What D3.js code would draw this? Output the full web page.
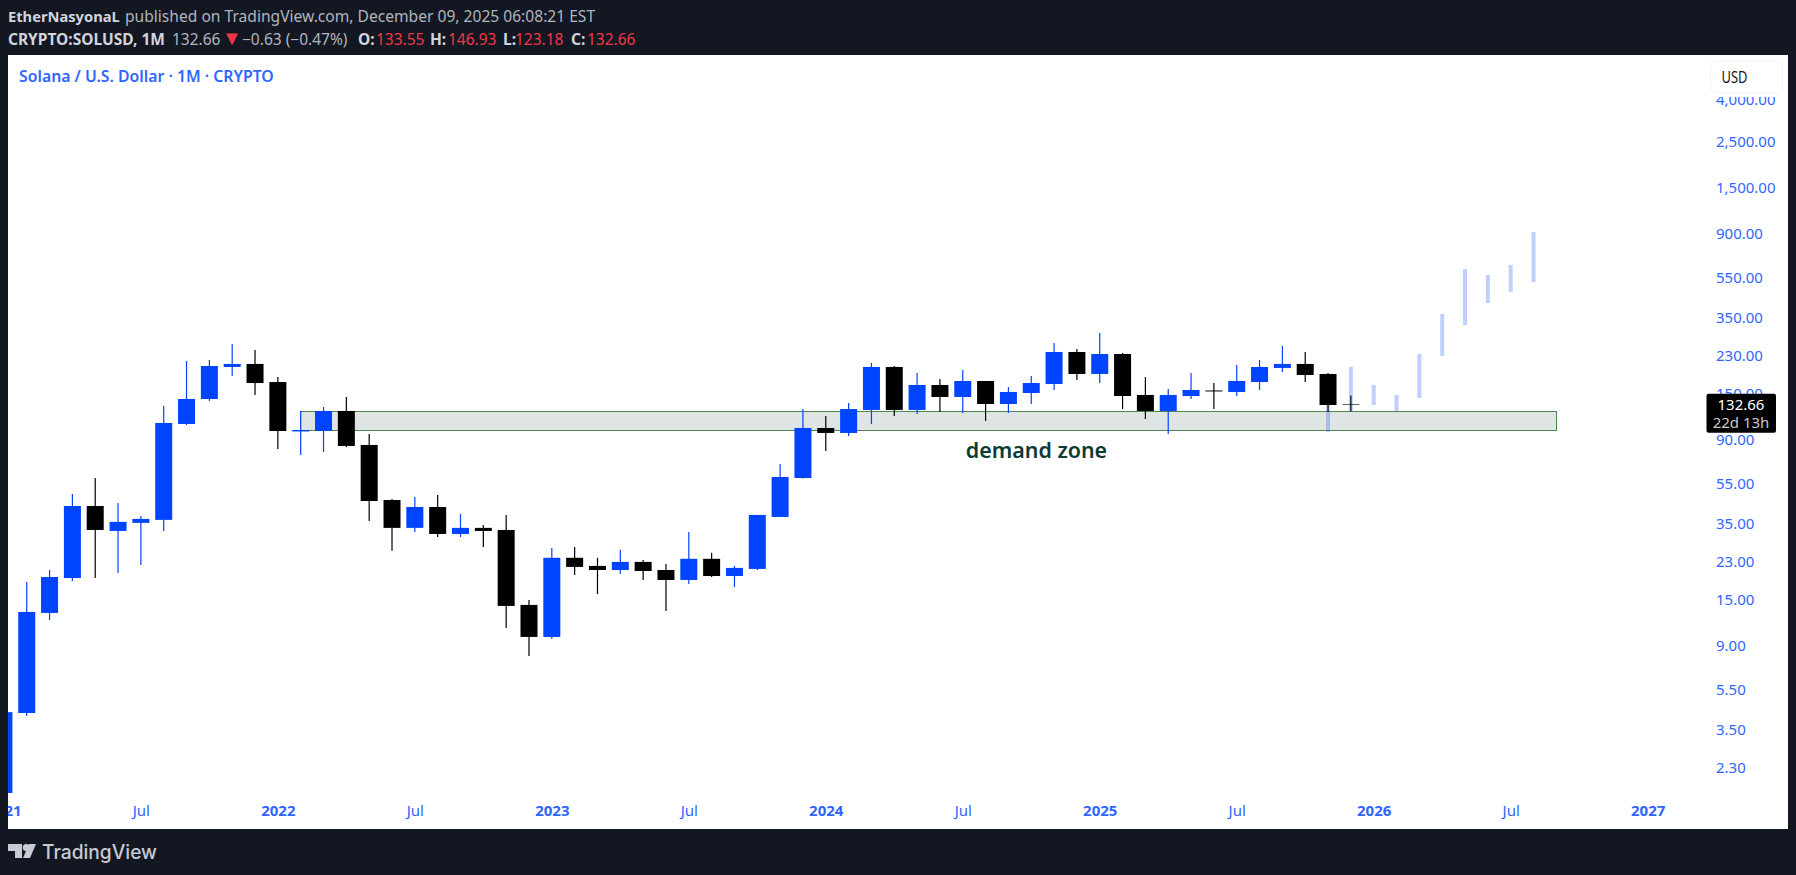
<!DOCTYPE html>
<html>
<head>
<meta charset="utf-8">
<title>SOLUSD 1M</title>
<script src="https://cdn.jsdelivr.net/npm/d3@7"></script>
<style>
  html, body { margin: 0; padding: 0; background: #131722; overflow: hidden; }
  text { font-family: "Noto Sans", sans-serif; }
  .domain { display: none; }
</style>
</head>
<body>
<svg id="chart" width="1796" height="875"></svg>
<script>
// month index 0 = Jan 2021
var opens = [1.73, 4.23, 12.94, 19.11, 42.74, 32.34, 35.39, 36.6, 106.9, 141.3, 202.1, 209.0,
    170.8, 98.3, 98.84, 123.6, 84.54, 45.7, 33.47, 42.26, 31.27, 33.47, 32.7, 14.15,
    9.895, 23.96, 21.88, 20.9, 22.88, 20.9, 18.7, 23.69, 19.55, 21.16, 37.82, 58.44,
    102.2, 96.66, 125, 202.1, 125, 165.2, 144.5, 172.8, 133.6, 151.1, 167.1, 238.9,
    186.9, 233.6, 147.8, 123.6, 146.1, 155.4, 152.8, 170.8, 199.9, 209.0, 186.9, 133.55];
var highs = [4.28, 18.29, 20.9, 48.87, 58.44, 44.19, 38.25, 130.6, 216.1, 218.5, 261.3, 244.3,
    180.7, 123.6, 129.2, 144.5, 95.58, 46.21, 47.26, 48.32, 39.11, 34.61, 38.68, 14.96,
    26.7, 27.0, 23.96, 26.2, 23.4, 22.38, 31.98, 25.34, 21.88, 38.68, 68.38, 126.3,
    116.9, 135.1, 211.3, 204.3, 189.0, 176.7, 195.4, 172.8, 161.6, 182.7, 264.2, 247.1,
    295.4, 236.2, 180.7, 158.0, 189.0, 168.9, 206.6, 218.5, 255.5, 238.9, 189.0, 146.93];
var lows = [1.73, 4.09, 11.96, 18.49, 19.11, 20.21, 22.13, 32.34, 105.7, 138.1, 182.7, 147.8,
    80.85, 75.56, 78.13, 82.67, 36.19, 25.91, 31.98, 30.24, 30.24, 27.0, 10.94, 8.005,
    9.677, 19.76, 15.97, 19.99, 18.7, 13.23, 17.88, 19.33, 17.29, 20.9, 37.82, 58.1,
    79.0, 93.47, 106.9, 116.9, 119.5, 122.2, 120.9, 110.6, 120.9, 133.6, 156.3, 174.7,
    168.9, 126.3, 113.1, 95.58, 141.3, 126.3, 146.1, 156.3, 191.1, 170.8, 122.2, 123.18];
var closes = [4.27, 13.08, 19.33, 42.74, 32.7, 35.79, 36.99, 108.1, 141.3, 204.3, 209.0, 168.9,
    98.84, 99.95, 123.6, 83.6, 45.19, 33.47, 42.26, 31.27, 33.47, 32.34, 13.99, 9.895,
    23.96, 21.64, 20.9, 22.88, 20.67, 18.7, 23.69, 19.55, 21.4, 38.68, 59.09, 102.2,
    96.66, 126.3, 202.1, 125, 165.2, 144.5, 172.8, 133.6, 152.8, 168.9, 238.9, 186.9,
    233.6, 146.1, 123.6, 147.8, 156.3, 153.7, 172.8, 202.1, 209.0, 184.8, 132.1, 132.66];

// pale projected bars drawn by the author, from Nov 2025 on
var ghostStart = 58;
var ghostHighs = [186.9, 202.1, 165.2, 147.8, 233.6, 365.3, 603.8, 564.6, 631.4, 913];
var ghostLows = [97.7, 123.6, 132.1, 123.6, 142.9, 228.5, 323.1, 413.0, 466.9, 522.1];

var zoneTop = 122.9, zoneBottom = 99.3;
var zoneFrom = 13, zoneTo = 67.99;

var priceTicks = [4000, 2500, 1500, 900, 550, 350, 230, 150, 90, 55, 35, 23, 15, 9, 5.5, 3.5, 2.3];
var timeTicks = [0, 6, 12, 18, 24, 30, 36, 42, 48, 54, 60, 66, 72];
var timeLabels = ["2021", "Jul", "2022", "Jul", "2023", "Jul", "2024", "Jul", "2025", "Jul", "2026", "Jul", "2027"];

var lastPrice = 132.66;

var blue = "#0044ff", axisBlue = "#2f66ff", dark = "#131722";
var grey = "#b2b5be", light = "#d1d4dc", red = "#f23645";

var svg = d3.select("#chart");

var x = d3.scaleLinear().domain([0, 72]).range([3.9, 3.9 + 72 * 22.83]);
var y = d3.scaleLog().domain([900, 2.3]).range([233.3, 767.5]);

// panel
svg.append("rect").attr("x", 8).attr("y", 55).attr("width", 1780).attr("height", 774).attr("fill", "#fff");
svg.append("clipPath").attr("id", "panel")
    .append("rect").attr("x", 8).attr("y", 55).attr("width", 1780).attr("height", 774);

var plot = svg.append("g").attr("clip-path", "url(#panel)");

// demand zone
plot.append("rect")
    .attr("x", x(zoneFrom))
    .attr("y", y(zoneTop))
    .attr("width", x(zoneTo) - x(zoneFrom))
    .attr("height", y(zoneBottom) - y(zoneTop))
    .attr("fill", "#dfe4e4")
    .attr("stroke", "#4f854f")
    .attr("stroke-width", 1)
    .attr("shape-rendering", "crispEdges");

// projected bars
plot.selectAll(".ghost")
    .data(ghostHighs)
    .enter().append("rect")
    .attr("class", "ghost")
    .attr("x", function(d, i) { return x(ghostStart + i) - 2; })
    .attr("y", function(d) { return y(d); })
    .attr("width", 4)
    .attr("height", function(d, i) { return y(ghostLows[i]) - y(d); })
    .attr("fill", blue)
    .attr("fill-opacity", 0.25);

// candles
var candles = plot.selectAll(".candle")
    .data(opens)
    .enter().append("g")
    .attr("class", "candle")
    .attr("fill", function(d, i) { return closes[i] >= d ? blue : "#000"; })
    .attr("stroke", function(d, i) { return closes[i] >= d ? blue : "#000"; });

candles.append("line")
    .attr("x1", function(d, i) { return x(i); })
    .attr("x2", function(d, i) { return x(i); })
    .attr("y1", function(d, i) { return y(highs[i]); })
    .attr("y2", function(d, i) { return y(lows[i]); })
    .attr("stroke-width", 1.2);

candles.append("rect")
    .attr("x", function(d, i) { return x(i) - 8.5; })
    .attr("y", function(d, i) { return y(Math.max(d, closes[i])); })
    .attr("width", 17)
    .attr("height", function(d, i) { return Math.abs(y(d) - y(closes[i])); })
    .attr("stroke", "none");

plot.append("text")
    .attr("x", 1036.5)
    .attr("y", 458)
    .attr("text-anchor", "middle")
    .attr("font-size", 21.4)
    .attr("font-weight", 600)
    .attr("fill", "#0d3b33")
    .text("demand zone");

// time axis
var timeAxis = d3.axisBottom(x)
    .tickValues(timeTicks)
    .tickSize(0)
    .tickPadding(0)
    .tickFormat(function(d, i) { return timeLabels[i]; });

plot.append("g")
    .attr("transform", "translate(0,816)")
    .call(timeAxis)
    .selectAll("text")
    .attr("font-size", 15)
    .attr("dy", 0)
    .attr("y", 0)
    .attr("fill", axisBlue)
    .attr("font-weight", function(d, i) { return timeLabels[i] === "Jul" ? 400 : 700; });

// price axis
var priceAxis = d3.axisRight(y)
    .tickValues(priceTicks)
    .tickSize(0)
    .tickPadding(0)
    .tickFormat(d3.format(",.2f"));

var priceG = plot.append("g")
    .attr("transform", "translate(1716,0)")
    .call(priceAxis);

priceG.selectAll("text")
    .attr("font-size", 15)
    .attr("fill", axisBlue);

// last price label
var lastY = y(lastPrice);
svg.append("rect").attr("x", 1706.5).attr("y", lastY - 11).attr("width", 69.5).attr("height", 39)
    .attr("rx", 2).attr("fill", "#000");
svg.append("text").attr("x", 1741).attr("y", lastY + 5.5)
    .attr("text-anchor", "middle").attr("font-size", 15).attr("fill", "#fff").text(d3.format(".2f")(lastPrice));
svg.append("text").attr("x", 1741).attr("y", lastY + 23)
    .attr("text-anchor", "middle").attr("font-size", 15).attr("fill", "#c8c8c8").text("22d 13h");

// currency button
svg.append("rect").attr("x", 1705).attr("y", 55).attr("width", 83).attr("height", 42).attr("fill", "#fff");
svg.append("rect").attr("x", 1710.5).attr("y", 61).attr("width", 72).attr("height", 32)
    .attr("rx", 6).attr("fill", "#fff").attr("stroke", "#f0f3fa").attr("stroke-width", 1);
svg.append("text").attr("x", 1721.5).attr("y", 82.5).attr("font-size", 16.5).attr("fill", "#131722")
    .attr("textLength", 26).attr("lengthAdjust", "spacingAndGlyphs").text("USD");

// headings
svg.append("text").attr("x", 8).attr("y", 22).attr("font-size", 14.7).attr("font-weight", 700)
    .attr("fill", light).text("EtherNasyonaL");
svg.append("text").attr("x", 125).attr("y", 22).attr("font-size", 15.6).attr("fill", grey)
    .text("published on TradingView.com, December 09, 2025 06:08:21 EST");

var headerRow = [
    ["CRYPTO:SOLUSD, 1M", 8, 700, light],
    ["132.66", 172, 400, grey],
    ["\u22120.63 (\u22120.47%)", 242, 400, grey],
    ["O:", 358, 700, light],
    ["133.55", 376, 400, red],
    ["H:", 430, 700, light],
    ["146.93", 448, 400, red],
    ["L:", 503, 700, light],
    ["123.18", 515, 400, red],
    ["C:", 571, 700, light],
    ["132.66", 587, 400, red]
];
svg.selectAll(".head")
    .data(headerRow)
    .enter().append("text")
    .attr("class", "head")
    .attr("x", function(d) { return d[1]; })
    .attr("y", 44.5)
    .attr("font-size", 15.5)
    .attr("font-weight", function(d) { return d[2]; })
    .attr("fill", function(d) { return d[3]; })
    .text(function(d) { return d[0]; });
svg.append("text").attr("x", 222).attr("y", 45).attr("font-size", 20).attr("fill", red).text("\u25BC");

svg.append("text").attr("x", 19).attr("y", 82)
    .attr("font-size", 15.8).attr("font-weight", 600).attr("fill", axisBlue)
    .text("Solana / U.S. Dollar \u00B7 1M \u00B7 CRYPTO");

// footer logo
var logo = svg.append("g").attr("fill", "#c8cbd3");
logo.append("path").attr("d", "M8 844H22V858H15V851H8Z");
logo.append("circle").attr("cx", 26.2).attr("cy", 847.5).attr("r", 3.5);
logo.append("path").attr("d", "M29 844H36L30 858H23Z");
svg.append("text").attr("x", 42).attr("y", 858.5)
    .style("font-family", "Inter").attr("font-size", 20).attr("font-weight", 500)
    .attr("fill", "#c8cbd3").attr("textLength", 115).attr("lengthAdjust", "spacingAndGlyphs").text("TradingView");
</script>
</body>
</html>
